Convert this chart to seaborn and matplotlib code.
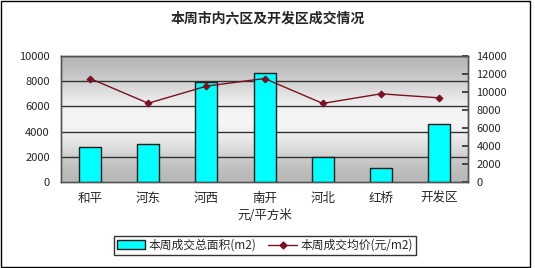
import numpy as np
import pandas as pd
import matplotlib
matplotlib.use("Agg")
import matplotlib.pyplot as plt
import seaborn as sns
from matplotlib.patches import Rectangle, Patch
from matplotlib.lines import Line2D
from matplotlib.ticker import FixedLocator

sns.set_theme(style="white")
plt.rcParams['font.family'] = ['Noto Sans CJK SC', 'DejaVu Sans']

districts = ["和平", "河东", "河西", "南开", "河北", "红桥", "开发区"]
area = [2750, 3000, 7950, 8620, 1950, 1100, 4570]
price = [11500, 8750, 10650, 11500, 8730, 9800, 9350]

title = "本周市内六区及开发区成交情况"
xlabel = "元/平方米"
bar_label = "本周成交总面积(m2)"
line_label = "本周成交均价(元/m2)"

df = pd.DataFrame({"district": districts, "area": area, "price": price})

fig = plt.figure(figsize=(5.35, 2.68), dpi=100)
fig.patch.set_facecolor("white")
ax = fig.add_axes([0.114, 0.321, 0.761, 0.470])

# gradient background
grad = np.array([0.72, 0.78, 0.87, 0.94, 0.97, 0.94, 0.87, 0.78, 0.72])
ax.imshow(grad.reshape(-1, 1), cmap="gray", vmin=0, vmax=1, aspect="auto",
          extent=[0, 1, 0, 1], transform=ax.transAxes, zorder=0,
          interpolation="bicubic")

sns.barplot(data=df, x="district", y="area", order=districts, color="#00FFFF",
            edgecolor="#1a1a1a", linewidth=1.0, width=0.38, saturation=1,
            ax=ax, zorder=3)
ax.set_ylim(0, 10000)
ax.set_yticks(np.arange(0, 10001, 2000))
ax.set_xlim(-0.5, 6.5)
for y in np.arange(2000, 10001, 2000):
    ax.axhline(y, color="#333333", lw=1.0, zorder=1)
ax.set_xlabel(xlabel, fontsize=9, labelpad=3)
ax.set_ylabel("")
ax.tick_params(axis="y", labelsize=8, length=0, pad=8)
ax.tick_params(axis="x", which="major", labelsize=9, length=0, pad=7)
ax.xaxis.set_minor_locator(FixedLocator(np.arange(0.5, 6.0, 1.0)))
ax.tick_params(axis="x", which="minor", direction="in", length=3, color="#333333")
for sp in ax.spines.values():
    sp.set_color("#555555")
    sp.set_linewidth(1.0)

ax2 = ax.twinx()
sns.pointplot(data=df, x="district", y="price", order=districts, color="#7a1020",
              markers="D", markersize=3.5, linewidth=1.0, ax=ax2, zorder=4)
ax2.set_xlim(-0.5, 6.5)
ax2.set_ylim(0, 14000)
ax2.set_yticks(np.arange(0, 14001, 2000))
ax2.set_ylabel("")
ax2.tick_params(axis="y", labelsize=8, direction="in", length=4, pad=6, color="#333333")
for sp in ax2.spines.values():
    sp.set_color("#555555")
    sp.set_linewidth(1.0)

fig.text(0.5, 0.93, title, ha="center", va="center", fontsize=10, fontweight="bold")

handles = [Patch(facecolor="#00FFFF", edgecolor="#1a1a1a", linewidth=1.0, label=bar_label),
           Line2D([0], [0], color="#7a1020", marker="D", markersize=3.5, lw=1.0, label=line_label)]
leg = fig.legend(handles=handles, loc="center", bbox_to_anchor=(0.495, 0.085), ncol=2,
                 fontsize=8.5, frameon=True, fancybox=False, borderpad=0.25,
                 handlelength=2.4, handletextpad=0.3, columnspacing=1.0,
                 borderaxespad=0)
leg.get_frame().set_edgecolor("black")
leg.get_frame().set_linewidth(1.0)

fig.patches.append(Rectangle((0.002, 0.004), 0.988, 0.992, transform=fig.transFigure,
                             fill=False, edgecolor="black", lw=1.0))

fig.savefig("out.png", dpi=100)
